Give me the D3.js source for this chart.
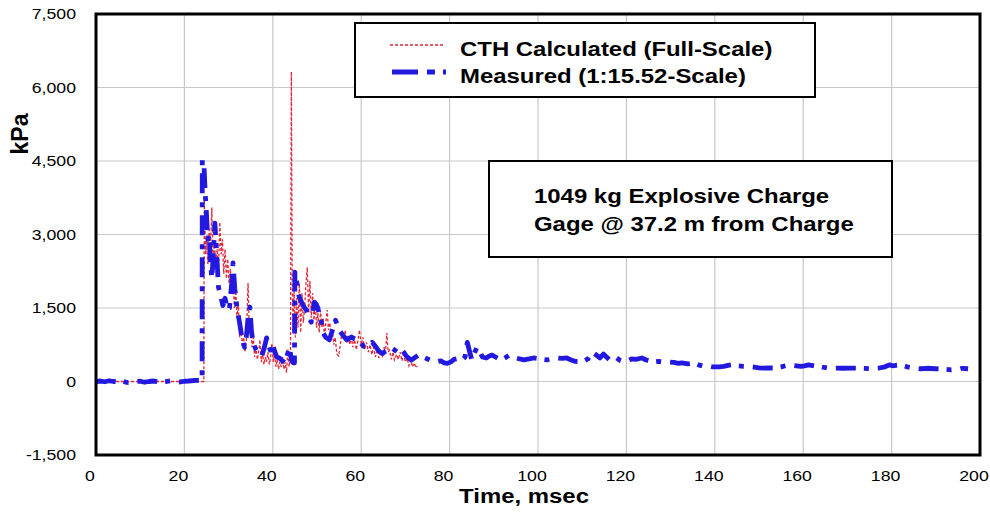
<!DOCTYPE html>
<html>
<head>
<meta charset="utf-8">
<script src="https://cdn.jsdelivr.net/npm/d3@7"></script>
<style>
  html, body { margin: 0; padding: 0; background: #fff; }
  svg { display: block; font-family: Arial, "Liberation Sans", sans-serif; }
  .grid line { stroke: #c8c8c8; stroke-width: 1.2; }
  .tick-label { font-size: 15.5px; fill: #000; }
  .axis-title { font-size: 21px; font-weight: bold; fill: #000; }
  .box-text { font-size: 21px; font-weight: bold; fill: #000; }
</style>
</head>
<body>
<svg id="chart" width="990" height="515"></svg>
<script>
const xTicks = [0, 20, 40, 60, 80, 100, 120, 140, 160, 180, 200];
const yTicks = [-1500, 0, 1500, 3000, 4500, 6000, 7500];

const seriesNames = ["CTH Calculated (Full-Scale)", "Measured (1:15.52-Scale)"];
const noteLines = ["1049 kg Explosive Charge", "Gage @ 37.2 m from Charge"];

// CTH calculated (full-scale): time (msec), pressure (kPa)
const cthTime = [
  0, 2, 5, 10, 15, 20, 24.4, 24.5, 24.8, 25.0, 25.3, 25.6, 25.9, 26.2, 26.5, 26.8,
  27.1, 27.4, 27.7, 28.0, 28.3, 28.6, 28.9, 29.2, 29.5, 29.8, 30.1, 30.4, 30.7, 31.0,
  31.3, 31.6, 31.9, 32.2, 32.5, 32.8, 33.1, 33.4, 33.7, 34.0, 34.4, 34.7, 35.0, 35.3,
  35.6, 35.9, 36.2, 36.5, 36.8, 37.1, 37.4, 37.7, 38.0, 38.3, 38.6, 38.9, 39.2, 39.5,
  39.8, 40.1, 40.4, 40.7, 41.0, 41.3, 41.6, 41.9, 42.2, 42.5, 42.8, 43.1, 43.4, 43.7,
  44.0, 44.2, 44.4, 44.6, 44.8, 45.1, 45.4, 45.7, 46.0, 46.3, 46.6, 46.9, 47.2, 47.5,
  47.8, 48.1, 48.4, 48.7, 49.0, 49.3, 49.6, 49.9, 50.2, 50.5, 50.8, 51.1, 51.4, 51.7,
  52.0, 52.3, 52.6, 52.9, 53.2, 53.5, 53.8, 54.1, 54.5, 54.9, 55.2, 55.5, 55.8, 56.1,
  56.4, 56.7, 57.0, 57.4, 57.8, 58.1, 58.5, 58.9, 59.2, 59.6, 60.0, 60.4, 60.8, 61.2,
  61.6, 62.0, 62.4, 62.8, 63.2, 63.6, 64.0, 64.4, 64.8, 65.2, 65.5, 65.8, 66.1, 66.4,
  66.8, 67.2, 67.5, 68.0, 68.4, 68.8, 69.2, 69.6, 70.0, 70.4, 70.8, 71.2, 71.6, 72.0,
  72.4, 72.7
];
const cthKpa = [
  0, 0, 0, 0, 0, 0, 0, 3700, 2600, 2900, 2400, 3100, 2700, 3550, 2500, 2900,
  2300, 2700, 2200, 3250, 2600, 2900, 2200, 2700, 2100, 2500, 2000, 2300, 1800, 2100,
  1500, 1900, 1300, 1600, 900, 1200, 700, 900, 600, 800, 2010, 1000, 1200, 700,
  900, 500, 700, 450, 600, 850, 400, 550, 350, 500, 400, 600, 350, 500,
  780, 400, 550, 300, 450, 250, 400, 300, 500, 250, 400, 180, 650, 300,
  500, 6320, 2000, 1000, 1900, 900, 1700, 1100, 2000, 1000, 1800, 1200, 1500, 2000,
  2330, 1400, 2050, 1300, 1800, 1250, 1600, 1100, 1400, 1000, 1450, 1100, 1300, 900,
  1200, 1460, 1050, 1200, 900, 1000, 750, 900, 560, 520, 700, 900, 1000, 850,
  1050, 800, 950, 750, 900, 700, 850, 650, 800, 1050, 750, 900, 650, 800,
  600, 750, 550, 700, 500, 650, 480, 600, 520, 700, 600, 990, 600, 640,
  450, 600, 440, 550, 450, 600, 420, 550, 400, 480, 320, 440, 300, 380,
  280, 320
];

// Measured (1:15.52-scale): time (msec), pressure (kPa)
const measTime = [
  0, 1, 2, 3, 4, 5, 6, 7, 8, 9, 10, 11, 12, 13, 14, 15, 16, 17, 18, 19, 20, 21, 22, 23,
  24.0, 24.05, 24.4, 24.7, 25.0, 25.3, 25.6, 25.9, 26.2, 26.5, 26.9, 27.3, 27.7, 28.2,
  28.7, 29.2, 29.7, 30.2, 30.7, 31.0, 31.4, 31.9, 32.5, 33.0, 33.6, 34.0, 34.4, 34.8,
  35.2, 35.6, 36.2, 36.8, 37.5, 38.1, 38.6, 39.0, 39.4, 39.9, 40.4, 40.9, 41.5, 42.2,
  42.8, 43.3, 43.8, 44.2, 44.6, 44.9, 45.0, 45.3, 45.6, 46.0, 46.6, 47.2, 47.6, 48.2,
  48.7, 49.0, 49.4, 49.8, 50.2, 50.6, 51.0, 51.4, 52.0, 52.8, 53.5, 54.2, 54.6, 55.0,
  55.8, 56.7, 57.3, 57.8, 58.5, 59.1, 59.6, 60.0, 60.5, 61.4, 62.0, 62.5, 63.2, 64.0,
  64.8, 65.5, 66.2, 67.0, 67.6, 68.2, 69.0, 69.6, 70.2, 70.8, 71.4, 72.0, 73.0, 74.0,
  75.0, 76.0, 77.0, 78.0, 78.8, 79.5, 80.3, 81.0, 82.0, 82.8, 83.5, 84.0, 84.5, 85.0,
  85.5, 86.2, 86.8, 87.4, 88.3, 89.0, 89.6, 90.4, 91.2, 91.7, 92.5, 93.5, 94.4, 95.5,
  96.8, 98.0, 99.0, 100.0, 101.0, 102.0, 103.3, 104.5, 105.5, 106.5, 107.5, 108.5, 110.0, 111.3,
  112.3, 113.2, 114.0, 114.8, 115.5, 116.2, 117.0, 117.8, 118.6, 119.4, 120.3, 121.2, 122.1, 123.0,
  123.5, 124.5, 125.5, 126.4, 127.3, 129.0, 130.7, 131.8, 132.5, 133.9, 135.2, 136.3, 137.5, 138.5,
  139.5, 141.0, 142.0, 143.0, 143.8, 145.0, 146.5, 148.5, 150.0, 150.8, 152.0, 153.3, 155.0, 156.9,
  158.5, 159.4, 160.3, 161.2, 162.5, 164.0, 165.5, 166.6, 167.7, 169.0, 170.7, 173.0, 175.2, 176.2,
  177.2, 178.5, 179.5, 180.2, 181.0, 182.0, 183.5, 185.0, 186.5, 188.0, 190.0, 192.0, 193.5, 195.0,
  196.0, 197.3
];
const measKpa = [
  0, 10, -5, 15, 0, -10, 5, -20, -10, 0, 5, -15, 0, 10, -5, -10, 0, 15, -5, -10, 5, 10, 20, 25,
  30, 4520, 4480, 3850, 3400, 2900, 3000, 2450, 2100, 2500, 3230, 2600, 1930, 1750,
  1550, 1700, 1480, 1500, 2000, 2420, 1900, 1500, 1190, 900, 700, 900, 1300, 1520,
  1000, 780, 650, 560, 520, 700, 890, 760, 640, 780, 620, 500, 480, 420,
  380, 550, 700, 440, 380, 380, 2230, 2150, 1870, 1720, 1600, 1500, 1460, 1300,
  1210, 1400, 1620, 1580, 1500, 1320, 1210, 990, 900, 850, 1050, 1250, 1150, 1050,
  950, 850, 880, 910, 870, 850, 800, 780, 720, 700, 740, 800, 720, 620,
  570, 620, 640, 680, 640, 600, 670, 600, 520, 470, 440, 480, 540, 500,
  460, 420, 400, 420, 380, 370, 400, 450, 470, 440, 500, 800, 620, 450,
  560, 700, 620, 500, 480, 520, 540, 500, 460, 440, 480, 540, 500, 470,
  440, 460, 480, 470, 450, 440, 460, 480, 470, 480, 440, 410, 400, 460,
  600, 540, 480, 560, 500, 440, 460, 480, 430, 400, 420, 460, 450, 470,
  480, 440, 410, 400, 410, 400, 390, 370, 380, 360, 380, 340, 310, 320,
  300, 300, 310, 330, 340, 320, 310, 300, 280, 275, 280, 275, 300, 340,
  320, 310, 320, 340, 320, 300, 275, 270, 275, 270, 275, 270, 260, 270,
  275, 300, 340, 320, 330, 340, 300, 275, 260, 270, 260, 250, 235, 245,
  270, 260
];

const cthData = cthTime.map((t, i) => ({ t, v: cthKpa[i] }));
const measData = measTime.map((t, i) => ({ t, v: measKpa[i] }));

const redColor = "#e3263a";
const blueColor = "#2218e0";
// the source picture is a bit wider than tall, so its text looks stretched
const stretch = 1.14;

const svg = d3.select("#chart");
const plot = { left: 96, right: 980, top: 14, bottom: 455 };

const x = d3.scaleLinear().domain([0, 200]).range([plot.left, plot.right]);
const y = d3.scaleLinear().domain([-1500, 7500]).range([plot.bottom, plot.top]);

const fmt = (d) => d3.format(",")(Math.abs(d)).replace(/^/, d < 0 ? "-" : "");
const place = (px, py) => `translate(${px},${py}) scale(${stretch},1)`;

// gridlines
const grid = svg.append("g").attr("class", "grid");
grid.selectAll(".gx")
  .data(xTicks.slice(1, -1))
  .enter()
  .append("line")
  .attr("x1", (d) => x(d))
  .attr("x2", (d) => x(d))
  .attr("y1", plot.top)
  .attr("y2", plot.bottom);
grid.selectAll(".gy")
  .data(yTicks.slice(1, -1))
  .enter()
  .append("line")
  .attr("x1", plot.left)
  .attr("x2", plot.right)
  .attr("y1", (d) => y(d))
  .attr("y2", (d) => y(d));

// tick labels
svg.append("g")
  .selectAll("text")
  .data(yTicks)
  .enter()
  .append("text")
  .attr("class", "tick-label")
  .attr("transform", (d) => place(76, y(d)))
  .attr("dy", "0.35em")
  .attr("text-anchor", "end")
  .text(fmt);

svg.append("g")
  .selectAll("text")
  .data(xTicks)
  .enter()
  .append("text")
  .attr("class", "tick-label")
  .attr("transform", (d) => place(x(d) - 6, 481))
  .attr("text-anchor", "middle")
  .text((d) => d);

// axis titles
svg.append("text")
  .attr("class", "axis-title")
  .attr("transform", place(524, 503))
  .attr("text-anchor", "middle")
  .text("Time, msec");

svg.append("text")
  .attr("class", "axis-title")
  .attr("transform", "translate(28,134) rotate(-90)")
  .attr("text-anchor", "middle")
  .style("font-size", "23px")
  .text("kPa");

// series
const line = d3.line()
  .x((d) => x(d.t))
  .y((d) => y(d.v));

svg.append("path")
  .datum(cthData)
  .attr("fill", "none")
  .attr("stroke", redColor)
  .attr("stroke-width", 1.3)
  .attr("stroke-dasharray", "3,2")
  .attr("d", line);

svg.append("path")
  .datum(measData)
  .attr("fill", "none")
  .attr("stroke", blueColor)
  .attr("stroke-width", 4.8)
  .attr("stroke-linejoin", "round")
  .attr("stroke-dasharray", "20,8,5,9")
  .attr("d", line);

// plot frame
svg.append("rect")
  .attr("x", plot.left)
  .attr("y", plot.top)
  .attr("width", plot.right - plot.left)
  .attr("height", plot.bottom - plot.top)
  .attr("fill", "none")
  .attr("stroke", "#000")
  .attr("stroke-width", 3);

// legend
const legend = svg.append("g");
legend.append("rect")
  .attr("x", 355)
  .attr("y", 23)
  .attr("width", 460)
  .attr("height", 74)
  .attr("fill", "#fff")
  .attr("stroke", "#000")
  .attr("stroke-width", 2);

legend.append("line")
  .attr("x1", 390).attr("x2", 444)
  .attr("y1", 45).attr("y2", 45)
  .attr("stroke", redColor)
  .attr("stroke-width", 1.3)
  .attr("stroke-dasharray", "3,2");
legend.append("line")
  .attr("x1", 392).attr("x2", 446)
  .attr("y1", 72).attr("y2", 72)
  .attr("stroke", blueColor)
  .attr("stroke-width", 4.8)
  .attr("stroke-dasharray", "26,9,8,8");

legend.selectAll(".legend-text")
  .data(seriesNames)
  .enter()
  .append("text")
  .attr("class", "box-text")
  .attr("transform", (d, i) => place(460, 56 + i * 27))
  .text((d) => d);

// note box
const note = svg.append("g");
note.append("rect")
  .attr("x", 489)
  .attr("y", 161)
  .attr("width", 403)
  .attr("height", 96)
  .attr("fill", "#fff")
  .attr("stroke", "#000")
  .attr("stroke-width", 2);

note.selectAll("text")
  .data(noteLines)
  .enter()
  .append("text")
  .attr("class", "box-text")
  .attr("transform", (d, i) => place(534, 203 + i * 28))
  .text((d) => d);
</script>
</body>
</html>
